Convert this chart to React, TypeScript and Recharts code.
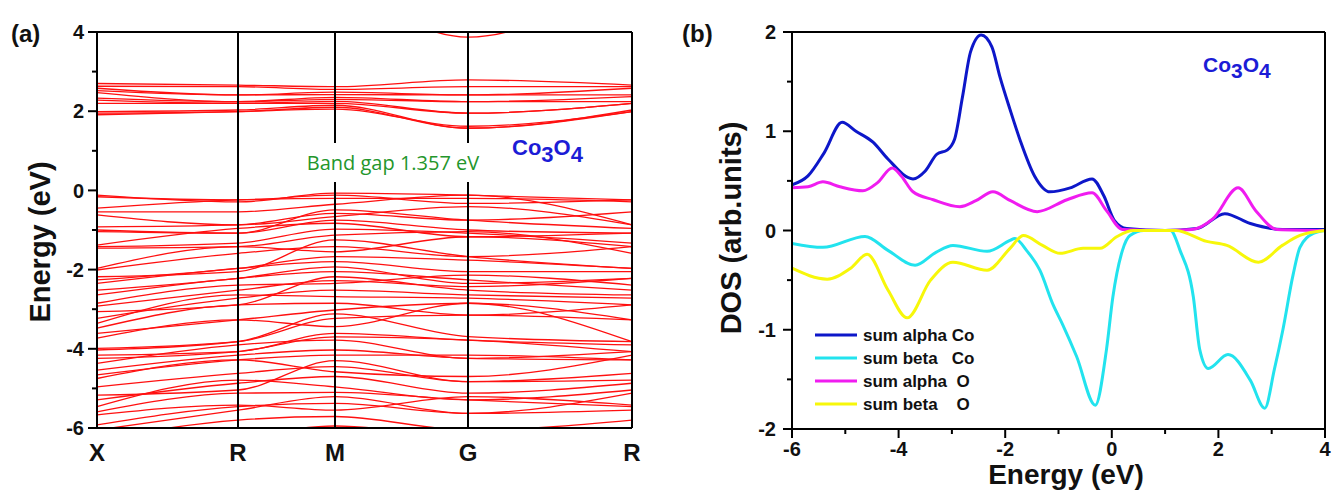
import { LineChart, Line, XAxis, YAxis, ReferenceLine } from "recharts";

// ---- (a) band structure: energies (eV) read at the high-symmetry points ----
const kPoints = [0, 1.41, 2.38, 3.71, 5.35];
const kLabels = ["X", "R", "M", "G", "R"];

const valenceX = [-0.12, -0.16, -0.45, -0.54, -0.62, -0.92, -1.0, -1.04, -1.38, -1.42, -1.46, -1.97, -2.01, -2.18, -2.26, -2.35, -2.52, -2.64, -2.85, -2.92, -3.06, -3.23, -3.36, -3.48, -3.61, -3.73, -3.99, -4.03, -4.16, -4.24, -4.37, -4.54, -4.66, -4.75, -4.96, -5.17, -5.29, -5.46, -5.59, -5.67, -5.92, -6.05, -6.3, -6.5];
const valenceR = [-0.29, -0.24, -0.24, -0.54, -0.87, -0.87, -1.08, -1.08, -0.96, -1.33, -1.42, -1.42, -1.59, -2.05, -1.97, -1.97, -2.22, -2.22, -2.39, -2.52, -2.89, -2.72, -2.64, -2.89, -3.27, -3.27, -3.82, -3.82, -4.07, -4.07, -3.9, -4.16, -4.28, -4.28, -4.62, -5.04, -4.87, -4.79, -5.12, -5.42, -5.46, -5.55, -5.8, -6.2];
const valenceM = [-0.07, -0.12, -0.2, -0.35, -0.66, -0.58, -0.49, -0.75, -0.83, -0.98, -1.13, -1.55, -1.42, -1.25, -1.67, -1.8, -1.93, -2.05, -2.35, -2.28, -2.18, -2.52, -2.68, -2.85, -3.02, -3.44, -3.23, -3.12, -3.61, -3.7, -3.78, -4.03, -4.16, -4.58, -4.45, -4.3, -4.7, -4.96, -5.1, -5.55, -5.38, -5.21, -5.71, -5.95];
const valenceG = [-0.12, -0.33, -0.2, -0.12, -0.41, -0.75, -0.75, -1.0, -1.17, -1.08, -1.04, -1.17, -1.67, -1.67, -1.76, -2.05, -2.35, -2.26, -2.14, -2.43, -2.52, -2.64, -2.72, -3.15, -2.85, -2.85, -3.15, -3.69, -3.78, -3.78, -4.24, -4.24, -4.16, -4.7, -4.83, -4.83, -5.12, -5.29, -5.29, -5.21, -5.63, -5.63, -6.05, -6.2];
const valenceREnd = [-0.24, -0.24, -0.29, -0.87, -0.87, -0.54, -0.96, -1.08, -1.08, -1.33, -1.59, -1.42, -1.42, -1.97, -1.97, -2.05, -2.22, -2.52, -2.39, -2.22, -2.64, -2.72, -2.89, -2.89, -3.82, -3.27, -3.27, -3.82, -3.9, -4.07, -4.07, -4.28, -4.28, -4.16, -4.62, -4.79, -4.87, -5.04, -5.46, -5.42, -5.12, -5.55, -5.8, -6.2];

const conductionX = [2.7, 2.63, 2.58, 2.52, 2.47, 2.33, 2.28, 2.2, 1.99, 1.95, 1.91];
const conductionR = [2.66, 2.62, 2.41, 2.41, 2.24, 2.24, 2.2, 2.2, 2.03, 1.99, 1.99];
const conductionM = [2.62, 2.55, 2.48, 2.42, 2.35, 2.3, 2.25, 2.2, 2.15, 2.1, 2.05];
const conductionG = [2.79, 2.62, 2.41, 2.41, 2.24, 2.24, 1.95, 1.95, 1.57, 1.57, 1.62];
const conductionREnd = [2.66, 2.62, 2.58, 2.41, 2.37, 2.24, 2.2, 2.2, 2.03, 1.99, 1.99];

const upperBand = [5.5, 5.5, 5.0, 3.87, 5.5];

const valenceSets = [valenceX, valenceR, valenceM, valenceG, valenceREnd];
const conductionSets = [conductionX, conductionR, conductionM, conductionG, conductionREnd];

const bandTable = kPoints.map((k, i) => {
  const row: Record<string, number> = { k };
  valenceSets[i].forEach((e, j) => (row["v" + j] = e));
  conductionSets[i].forEach((e, j) => (row["c" + j] = e));
  row.u0 = upperBand[i];
  return row;
});
const bandKeys = [
  ...valenceX.map((_, j) => "v" + j),
  ...conductionX.map((_, j) => "c" + j),
  "u0",
];

// ---- (b) DOS: [energy eV, DOS] ----
const alphaCo = [[-6, 0.46], [-5.7, 0.55], [-5.4, 0.78], [-5.06, 1.09], [-4.8, 1.0], [-4.48, 0.89], [-4.2, 0.72], [-3.73, 0.52], [-3.5, 0.6], [-3.28, 0.77], [-3.09, 0.81], [-2.95, 0.92], [-2.8, 1.35], [-2.65, 1.8], [-2.45, 1.97], [-2.25, 1.85], [-2.1, 1.55], [-1.91, 1.22], [-1.72, 0.91], [-1.45, 0.55], [-1.16, 0.39], [-0.78, 0.43], [-0.37, 0.52], [-0.15, 0.35], [0.05, 0.1], [0.28, 0.02], [1.0, 0.0], [1.6, 0.02], [2.12, 0.17], [2.6, 0.07], [3.2, 0.01], [4, 0.01]];
const betaCo = [[-6, -0.13], [-5.42, -0.17], [-4.63, -0.06], [-4.2, -0.2], [-3.69, -0.35], [-3.3, -0.22], [-2.98, -0.15], [-2.34, -0.21], [-1.91, -0.1], [-1.82, -0.08], [-1.6, -0.2], [-1.35, -0.4], [-1.1, -0.75], [-0.92, -0.95], [-0.66, -1.27], [-0.31, -1.76], [-0.1, -1.2], [0.02, -0.67], [0.2, -0.2], [0.34, -0.05], [0.6, 0.0], [1.1, 0.0], [1.28, -0.2], [1.53, -0.67], [1.65, -1.2], [1.81, -1.39], [2.18, -1.25], [2.6, -1.51], [2.87, -1.79], [3.05, -1.4], [3.21, -1.0], [3.4, -0.45], [3.53, -0.17], [3.78, -0.03], [4, 0.0]];
const alphaO = [[-6, 0.43], [-5.7, 0.44], [-5.42, 0.49], [-5.1, 0.44], [-4.67, 0.4], [-4.4, 0.48], [-4.12, 0.63], [-3.95, 0.55], [-3.73, 0.39], [-3.35, 0.31], [-2.85, 0.24], [-2.55, 0.3], [-2.23, 0.39], [-1.9, 0.3], [-1.4, 0.19], [-0.84, 0.31], [-0.37, 0.38], [-0.1, 0.2], [0.2, 0.01], [1.0, 0.0], [1.5, 0.01], [1.9, 0.12], [2.37, 0.43], [2.7, 0.2], [3.1, 0.01], [4, 0.0]];
const betaO = [[-6, -0.38], [-5.34, -0.49], [-4.9, -0.38], [-4.59, -0.24], [-4.2, -0.6], [-3.84, -0.88], [-3.4, -0.5], [-2.98, -0.32], [-2.34, -0.4], [-1.91, -0.18], [-1.66, -0.05], [-1.3, -0.15], [-0.97, -0.23], [-0.54, -0.18], [-0.22, -0.18], [0.1, -0.06], [0.4, 0.0], [1.2, 0.0], [1.78, -0.11], [2.16, -0.15], [2.75, -0.32], [3.2, -0.15], [3.53, -0.05], [4, 0.0]];

const dosSeries = [
  { name: "sum alpha Co", color: "#0d17c9", points: alphaCo },
  { name: "sum beta   Co", color: "#22e3ee", points: betaCo },
  { name: "sum alpha  O", color: "#f01cf0", points: alphaO },
  { name: "sum beta    O", color: "#f7f70a", points: betaO },
];

const bandTicksY = [-6, -5, -4, -3, -2, -1, 0, 1, 2, 3, 4];
const dosTicksX = [-6, -5, -4, -3, -2, -1, 0, 1, 2, 3, 4];
const dosTicksY = [-2, -1.5, -1, -0.5, 0, 0.5, 1, 1.5, 2];

const FONT = '"Liberation Sans", Arial, sans-serif';
const axisLine = { stroke: "#000", strokeWidth: 2 };

function LeftTick(props: any) {
  const { x, y, payload, isMajor, offset } = props;
  const major = isMajor(payload.value);
  return (
    <g>
      <line x1={x} x2={x - (major ? 9 : 5)} y1={y} y2={y} stroke="#000" strokeWidth={2} />
      {major && (
        <text x={x - offset} y={y} dy="0.36em" textAnchor="end" fontFamily={FONT} fontWeight="bold" fontSize={20} fill="#111">
          {payload.value}
        </text>
      )}
    </g>
  );
}

function BottomTick(props: any) {
  const { x, y, payload, isMajor } = props;
  const major = isMajor(payload.value);
  return (
    <g>
      <line x1={x} x2={x} y1={y} y2={y + (major ? 9 : 5)} stroke="#000" strokeWidth={2} />
      {major && (
        <text x={x} y={y + 20} dy="0.36em" textAnchor="middle" fontFamily={FONT} fontWeight="bold" fontSize={20} fill="#111">
          {payload.value}
        </text>
      )}
    </g>
  );
}

function KTick(props: any) {
  const { x, y, index } = props;
  return (
    <text x={x} y={y + 24} dy="0.36em" textAnchor="middle" fontFamily={FONT} fontWeight="bold" fontSize={24} fill="#111">
      {kLabels[index]}
    </text>
  );
}

export default function App() {
  return (
    <div style={{ position: "absolute", left: 0, top: 0, width: 1335, height: 493, background: "#fff" }}>
      <div style={{ position: "absolute", left: 0, top: 0 }}>
        <LineChart width={650} height={493} data={bandTable} margin={{ top: 32, right: 18, bottom: 0, left: 0 }}>
          <XAxis
            type="number"
            dataKey="k"
            domain={[0, 5.35]}
            ticks={kPoints}
            height={65}
            axisLine={axisLine}
            tickLine={false}
            tickSize={0}
            tickMargin={0}
            interval={0}
            tick={(p: any) => <KTick {...p} />}
          />
          <YAxis
            type="number"
            domain={[-6, 4]}
            allowDataOverflow
            ticks={bandTicksY}
            width={97}
            axisLine={axisLine}
            tickLine={false}
            tickSize={0}
            tickMargin={0}
            interval={0}
            tick={(p: any) => <LeftTick {...p} offset={13} isMajor={(v: number) => v % 2 === 0} />}
          />
          {bandKeys.map((key) => (
            <Line
              key={key}
              dataKey={key}
              type="monotone"
              stroke="#ff1010"
              strokeWidth={1.3}
              dot={false}
              activeDot={false}
              isAnimationActive={false}
            />
          ))}
          {kPoints.slice(1, 4).map((k, i) => (
            <ReferenceLine key={i} x={k} stroke="#000" strokeWidth={2} />
          ))}
          <ReferenceLine y={4} stroke="#000" strokeWidth={2} />
          <ReferenceLine x={5.35} stroke="#000" strokeWidth={2} />
        </LineChart>
      </div>

      <div style={{ position: "absolute", left: 680, top: 0 }}>
        <LineChart width={655} height={493} margin={{ top: 32, right: 10, bottom: 0, left: 0 }}>
          <XAxis
            type="number"
            dataKey="e"
            domain={[-6, 4]}
            allowDataOverflow
            ticks={dosTicksX}
            height={64}
            axisLine={axisLine}
            tickLine={false}
            tickSize={0}
            tickMargin={0}
            interval={0}
            tick={(p: any) => <BottomTick {...p} isMajor={(v: number) => v % 2 === 0} />}
          />
          <YAxis
            type="number"
            dataKey="d"
            domain={[-2, 2]}
            allowDataOverflow
            ticks={dosTicksY}
            width={112}
            axisLine={axisLine}
            tickLine={false}
            tickSize={0}
            tickMargin={0}
            interval={0}
            tick={(p: any) => <LeftTick {...p} offset={16} isMajor={(v: number) => Number.isInteger(v)} />}
          />
          {dosSeries.map((s) => (
            <Line
              key={s.name}
              data={s.points.map(([e, d]) => ({ e, d }))}
              dataKey="d"
              name={s.name}
              type="monotone"
              stroke={s.color}
              strokeWidth={3}
              dot={false}
              activeDot={false}
              isAnimationActive={false}
            />
          ))}
          <ReferenceLine y={2} stroke="#000" strokeWidth={2} />
          <ReferenceLine x={4} stroke="#000" strokeWidth={2} />
        </LineChart>
      </div>

      <svg width={1335} height={493} style={{ position: "absolute", left: 0, top: 0, pointerEvents: "none" }}>
        <g fontFamily={FONT} fontWeight="bold" fill="#111">
          <text x={11} y={42} fontSize={24}>(a)</text>
          <text x={682} y={42} fontSize={24}>(b)</text>
          <text x={50} y={242} fontSize={29} textAnchor="middle" transform="rotate(-90 50 242)">Energy (eV)</text>
          <text x={741} y={228} fontSize={29} textAnchor="middle" transform="rotate(-90 741 228)">DOS (arb.units)</text>
          <text x={1066} y={484} fontSize={28} textAnchor="middle">Energy (eV)</text>
        </g>
        <rect x={300} y={143} width={186} height={39} fill="#fff" />
        <text x={393} y={170} fontSize={20} textAnchor="middle" fontFamily='"Open Sans", sans-serif' fill="#23962b">
          Band gap 1.357 eV
        </text>
        <text x={512} y={155} fontSize={22} fontFamily={FONT} fontWeight="bold" fill="#1c1cd6">
          Co<tspan dy={7}>3</tspan><tspan dy={-7}>O</tspan><tspan dy={7}>4</tspan>
        </text>
        <text x={1203} y={72} fontSize={21} fontFamily={FONT} fontWeight="bold" fill="#1c1cd6">
          Co<tspan dy={6}>3</tspan><tspan dy={-6}>O</tspan><tspan dy={6}>4</tspan>
        </text>
        {dosSeries.map((s, i) => (
          <g key={s.name}>
            <line x1={815} x2={857} y1={335 + i * 23} y2={335 + i * 23} stroke={s.color} strokeWidth={3} />
            <text x={863} y={335 + i * 23} dy="0.36em" fontSize={17} fontFamily={FONT} fontWeight="bold" fill="#111" style={{ whiteSpace: "pre" }}>
              {s.name}
            </text>
          </g>
        ))}
      </svg>
    </div>
  );
}
